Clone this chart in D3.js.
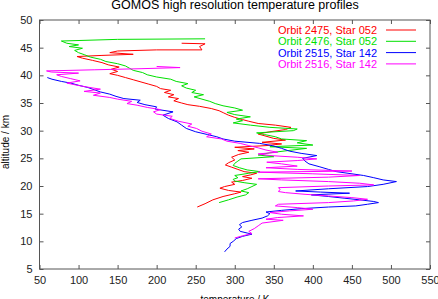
<!DOCTYPE html>
<html>
<head>
<meta charset="utf-8">
<script src="https://cdn.jsdelivr.net/npm/d3@7"></script>
<style>
  body { margin: 0; background: #fff; }
  text { font-family: "Liberation Sans", Arial, sans-serif; }
</style>
</head>
<body>
<div id="chart"></div>
<script>
// profiles as [altitude km, temperature K], read bottom to top
const orbit2475 = [
  [16.2,252],[16.8,262],[17.5,272],[18.1,285],[18.6,300],[18.9,308],[19.2,292],[19.6,281],
  [19.9,287],[20.3,300],[20.7,296],[21.0,310],[21.4,322],[21.7,310],[22.0,320],[22.3,328],
  [22.6,312],[23.0,304],[23.4,296],[23.8,288],[24.2,292],[24.7,300],[25.2,296],[25.7,305],
  [26.1,318],[26.4,304],[26.7,325],[27.0,300],[27.3,340],[27.6,360],[27.9,335],[28.3,365],
  [28.6,350],[29.0,340],[29.4,330],[29.8,345],[30.2,365],[30.6,372],[31.0,352],[31.3,330],
  [31.7,318],[32.0,310],[32.4,300],[32.8,292],[33.2,286],[33.6,280],[34.0,270],[34.4,255],
  [34.7,240],[35.0,232],[35.4,222],[35.8,228],[36.1,215],[36.5,222],[36.9,210],[37.3,218],
  [37.6,205],[38.0,200],[38.4,190],[38.8,180],[39.2,170],[39.6,160],[40.0,150],[40.3,140],
  [40.7,150],[41.1,142],[41.5,152],[41.9,138],[42.3,130],[42.7,118],[43.1,105],[43.4,98],
  [43.6,130],[43.8,170],[44.1,140],[44.4,150],[44.6,200],[44.6,258],[45.2,255],[45.7,262],[45.8,232]
];
const orbit2476 = [
  [17.0,280],[17.5,292],[18.0,303],[18.4,314],[18.8,318],[19.1,308],[19.5,316],[19.9,322],
  [20.3,328],[20.6,312],[20.9,300],[21.2,298],[21.5,304],[21.9,300],[22.3,318],[22.6,332],
  [22.9,316],[23.3,306],[23.7,298],[24.1,300],[24.5,304],[24.9,308],[25.3,350],[25.6,330],
  [26.0,345],[26.4,368],[26.8,392],[27.1,345],[27.4,400],[27.8,380],[28.2,392],[28.5,360],
  [28.9,352],[29.3,338],[29.6,328],[30.0,375],[30.3,380],[30.6,345],[31.0,320],[31.4,298],
  [31.8,310],[32.1,302],[32.5,320],[32.9,300],[33.3,290],[33.7,310],[34.1,300],[34.5,285],
  [34.9,275],[35.3,268],[35.7,258],[36.1,248],[36.5,260],[36.9,245],[37.3,250],[37.7,238],
  [38.1,232],[38.5,240],[38.9,225],[39.3,218],[39.7,200],[40.1,188],[40.5,182],[40.9,170],
  [41.3,165],[41.7,160],[42.1,150],[42.5,135],[42.9,128],[43.3,115],[43.7,108],[44.1,100],
  [44.5,95],[44.9,105],[45.2,88],[45.5,100],[45.8,85],[46.2,78],[46.5,150],[46.6,262]
];
const orbit2515 = [
  [8.1,287],[8.6,290],[9.1,294],[9.6,294],[10.0,298],[10.5,302],[10.9,310],[11.3,322],
  [11.5,316],[11.8,307],[12.2,305],[12.6,309],[13.0,306],[13.4,310],[13.8,322],[14.2,335],
  [14.6,342],[15.0,345],[15.3,340],[15.6,360],[15.9,385],[16.2,420],[16.4,455],[16.7,470],
  [17.0,484],[17.2,478],[17.5,460],[17.8,440],[18.1,420],[18.4,398],[18.7,447],[18.9,410],
  [19.1,378],[19.5,420],[19.9,470],[20.3,490],[20.8,507],[21.1,490],[21.5,478],[21.9,465],
  [22.3,445],[22.6,430],[23.0,420],[23.5,408],[24.0,395],[24.5,390],[25.0,387],[25.5,405],
  [25.9,385],[26.3,370],[26.8,360],[27.3,348],[27.7,332],[28.1,300],[28.5,285],[28.9,277],
  [29.3,265],[29.8,250],[30.4,238],[31.0,232],[31.6,226],[32.2,215],[32.8,208],[33.4,221],
  [33.9,198],[34.3,200],[34.7,185],[35.1,175],[35.5,179],[35.8,158],[36.2,148],[36.6,140],
  [37.0,128],[37.4,120],[37.8,112],[38.2,100],[38.6,90],[38.9,78],[39.3,66],[39.6,60]
];
const orbit2516 = [
  [10.6,300],[11.0,310],[11.4,322],[11.8,318],[12.3,325],[12.8,330],[13.3,335],[13.8,362],
  [14.0,340],[14.3,355],[14.6,388],[14.9,360],[15.2,345],[15.5,370],[15.8,400],[16.1,380],
  [16.4,352],[16.7,356],[17.0,420],[17.3,452],[17.6,470],[17.9,450],[18.2,420],[18.5,390],
  [18.8,365],[19.0,356],[19.4,358],[19.7,356],[20.0,420],[20.2,478],[20.5,460],[20.8,420],
  [21.1,360],[21.3,330],[21.6,420],[21.9,460],[22.2,400],[22.5,330],[22.7,450],[23.0,380],
  [23.3,340],[23.6,380],[24.0,360],[24.3,341],[24.6,380],[24.9,405],[25.2,380],[25.5,345],
  [25.8,330],[26.1,355],[26.5,340],[26.9,330],[27.3,318],[27.7,307],[28.1,290],[28.5,283],
  [28.9,264],[29.4,270],[29.9,258],[30.4,251],[30.8,240],[31.2,245],[31.7,228],[32.2,217],
  [32.6,220],[33.0,200],[33.4,196],[33.8,205],[34.2,188],[34.6,175],[34.9,162],[35.3,168],
  [35.7,150],[36.0,140],[36.4,119],[36.8,128],[37.1,107],[37.5,128],[37.9,110],[38.3,95],
  [38.6,85],[39.0,102],[39.4,90],[39.8,78],[40.1,72],[40.4,100],[40.6,65],[40.8,59],
  [41.0,120],[41.2,180],[41.4,230],[41.6,200]
];

const seriesNames = ["Orbit 2475, Star 052", "Orbit 2476, Star 052", "Orbit 2515, Star 142", "Orbit 2516, Star 142"];
const seriesColors = ["#ff0000", "#00e000", "#0000ff", "#ff00ff"];
const xTicks = [50, 100, 150, 200, 250, 300, 350, 400, 450, 500, 550];
const yTicks = [5, 10, 15, 20, 25, 30, 35, 40, 45, 50];

const series = [orbit2475, orbit2476, orbit2515, orbit2516];

const W = 438, H = 299;
const margin = {left: 39.5, right: 430, top: 20, bottom: 269};

const svg = d3.select("#chart").append("svg")
    .attr("width", W)
    .attr("height", H);

const x = d3.scaleLinear().domain([50, 550]).range([margin.left, margin.right]);
const y = d3.scaleLinear().domain([5, 50]).range([margin.bottom, margin.top]);

// title
svg.append("text")
    .attr("x", 235).attr("y", 9)
    .attr("text-anchor", "middle")
    .style("font-size", "12.5px")
    .text("GOMOS high resolution temperature profiles");

// axes, gnuplot style: inward ticks mirrored on all sides
const gx = svg.append("g")
    .attr("transform", "translate(0," + margin.bottom + ")")
    .call(d3.axisBottom(x).tickValues(xTicks).tickSizeInner(-4).tickSizeOuter(0).tickPadding(7));
const gxTop = svg.append("g")
    .attr("transform", "translate(0," + margin.top + ")")
    .call(d3.axisTop(x).tickValues(xTicks).tickSizeInner(-4).tickSizeOuter(0).tickFormat(""));
const gy = svg.append("g")
    .attr("transform", "translate(" + margin.left + ",0)")
    .call(d3.axisLeft(y).tickValues(yTicks).tickSizeInner(-4).tickSizeOuter(0).tickPadding(7));
const gyRight = svg.append("g")
    .attr("transform", "translate(" + margin.right + ",0)")
    .call(d3.axisRight(y).tickValues(yTicks).tickSizeInner(-4).tickSizeOuter(0).tickFormat(""));

[gx, gxTop, gy, gyRight].forEach(g => {
  g.select(".domain").remove();
  g.selectAll("line").attr("stroke", "#555");
  g.selectAll("text").style("font-size", "11px").attr("fill", "#222")
    .style("font-family", "'Liberation Sans', Arial, sans-serif");
});

svg.append("rect")
    .attr("x", margin.left).attr("y", margin.top)
    .attr("width", margin.right - margin.left).attr("height", margin.bottom - margin.top)
    .attr("fill", "none").attr("stroke", "#555").attr("stroke-width", 1);

// axis labels
svg.append("text")
    .attr("x", 235).attr("y", 303)
    .attr("text-anchor", "middle")
    .style("font-size", "10px")
    .text("temperature / K");

svg.append("text")
    .attr("transform", "translate(9,142) rotate(-90)")
    .attr("text-anchor", "middle")
    .style("font-size", "10px")
    .text("altitude / km");

// profiles
const line = d3.line()
    .x(d => x(d[1]))
    .y(d => y(d[0]));

svg.selectAll(".profile")
  .data(series)
  .enter().append("path")
    .attr("class", "profile")
    .attr("d", line)
    .attr("fill", "none")
    .attr("stroke", (d, i) => seriesColors[i])
    .attr("stroke-width", 1)
    .attr("stroke-linejoin", "round");

// legend
const legend = svg.selectAll(".legend")
  .data(seriesNames)
  .enter().append("g")
    .attr("class", "legend")
    .attr("transform", (d, i) => "translate(0," + (30 + i * 11.3) + ")");

legend.append("text")
    .attr("x", 377).attr("y", 4)
    .attr("text-anchor", "end")
    .style("font-size", "11px")
    .attr("fill", (d, i) => seriesColors[i])
    .text(d => d);

legend.append("line")
    .attr("x1", 386).attr("x2", 416)
    .attr("stroke", (d, i) => seriesColors[i])
    .attr("stroke-width", 1);
</script>
</body>
</html>
